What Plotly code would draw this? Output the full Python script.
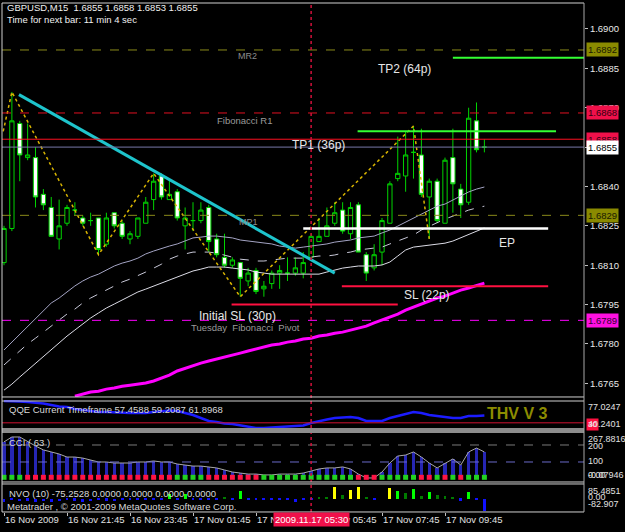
import plotly.graph_objects as go

# ---------------- data ----------------
bar_no = list(range(1, 63))

opens = [1.6811, 1.6824, 1.6864, 1.6851, 1.6851, 1.6837, 1.6832, 1.6820, 1.6826, 1.6831,
         1.6828, 1.6827, 1.6828, 1.6818, 1.6830, 1.6826, 1.6820, 1.6821, 1.6826, 1.6835,
         1.6844, 1.6835, 1.6838, 1.6825, 1.6827, 1.6827, 1.6832, 1.6820, 1.6813, 1.6810,
         1.6811, 1.6804, 1.6808, 1.6801, 1.6803, 1.6807, 1.6807, 1.6807, 1.6807, 1.6813,
         1.6819, 1.6821, 1.6826, 1.6831, 1.6822, 1.6833, 1.6814, 1.6809, 1.6815, 1.6826,
         1.6843, 1.6844, 1.6853, 1.6852, 1.6836, 1.6842, 1.6826, 1.6851, 1.6839, 1.6834,
         1.6865, 1.6855]
highs = [1.6825, 1.6876, 1.6865, 1.6864, 1.6855, 1.6839, 1.6836, 1.6835, 1.6833, 1.6834,
         1.6829, 1.6830, 1.6828, 1.6830, 1.6830, 1.6827, 1.6823, 1.6828, 1.6836, 1.6845,
         1.6845, 1.6843, 1.6839, 1.6832, 1.6834, 1.6834, 1.6833, 1.6822, 1.6822, 1.6813,
         1.6811, 1.6809, 1.6809, 1.6804, 1.6808, 1.6810, 1.6813, 1.6813, 1.6815, 1.6822,
         1.6828, 1.6832, 1.6834, 1.6834, 1.6834, 1.6834, 1.6815, 1.6818, 1.6828, 1.6842,
         1.6859, 1.6861, 1.6863, 1.6862, 1.6843, 1.6843, 1.6851, 1.6862, 1.6841, 1.6870,
         1.6872, 1.6858]
lows = [1.6810, 1.6823, 1.6842, 1.6850, 1.6832, 1.6831, 1.6821, 1.6816, 1.6825, 1.6829,
        1.6825, 1.6825, 1.6814, 1.6817, 1.6824, 1.6820, 1.6818, 1.6820, 1.6826, 1.6831,
        1.6835, 1.6835, 1.6827, 1.6816, 1.6823, 1.6826, 1.6815, 1.6813, 1.6809, 1.6809,
        1.6798, 1.6802, 1.6799, 1.6798, 1.6801, 1.6801, 1.6804, 1.6806, 1.6805, 1.6812,
        1.6819, 1.6821, 1.6825, 1.6822, 1.6820, 1.6815, 1.6804, 1.6808, 1.6810, 1.6826,
        1.6842, 1.6838, 1.6843, 1.6836, 1.6820, 1.6826, 1.6826, 1.6830, 1.6828, 1.6833,
        1.6853, 1.6853]
closes = [1.6824, 1.6865, 1.6852, 1.6852, 1.6836, 1.6833, 1.6821, 1.6825, 1.6832, 1.6831,
          1.6826, 1.6827, 1.6816, 1.6828, 1.6825, 1.6821, 1.6822, 1.6828, 1.6834, 1.6842,
          1.6836, 1.6837, 1.6828, 1.6828, 1.6827, 1.6831, 1.6819, 1.6814, 1.6810, 1.6812,
          1.6805, 1.6807, 1.6800, 1.6802, 1.6807, 1.6808, 1.6807, 1.6809, 1.6811, 1.6821,
          1.6821, 1.6825, 1.6830, 1.6823, 1.6832, 1.6815, 1.6807, 1.6814, 1.6827, 1.6841,
          1.6845, 1.6852, 1.6853, 1.6837, 1.6842, 1.6827, 1.6850, 1.6841, 1.6833, 1.6866,
          1.6854, 1.6855]

ma_upper = [1.67777, 1.67807, 1.67838, 1.67868, 1.67899, 1.67925, 1.67956, 1.67975, 1.67998, 1.68021,
            1.68040, 1.68055, 1.68066, 1.68082, 1.68097, 1.68108, 1.68116, 1.68127, 1.68143, 1.68154,
            1.68165, 1.68173, 1.68181, 1.68192, 1.68204, 1.68207, 1.68211, 1.68211, 1.68207, 1.68204,
            1.68196, 1.68192, 1.68188, 1.68184, 1.68181, 1.68173, 1.68169, 1.68165, 1.68169, 1.68173,
            1.68177, 1.68181, 1.68188, 1.68192, 1.68196, 1.68204, 1.68207, 1.68211, 1.68223, 1.68234,
            1.68249, 1.68264, 1.68280, 1.68295, 1.68310, 1.68325, 1.68333, 1.68348, 1.68364, 1.68379,
            1.68390, 1.68398]
ma_mid = [1.67720, 1.67746, 1.67773, 1.67800, 1.67822, 1.67845, 1.67868, 1.67891, 1.67914, 1.67933,
          1.67956, 1.67975, 1.67990, 1.68005, 1.68021, 1.68036, 1.68047, 1.68059, 1.68074, 1.68089,
          1.68104, 1.68123, 1.68135, 1.68143, 1.68150, 1.68150, 1.68150, 1.68146, 1.68139, 1.68131,
          1.68123, 1.68120, 1.68116, 1.68116, 1.68120, 1.68123, 1.68127, 1.68127, 1.68127, 1.68131,
          1.68135, 1.68135, 1.68139, 1.68146, 1.68150, 1.68158, 1.68162, 1.68165, 1.68169, 1.68181,
          1.68192, 1.68204, 1.68215, 1.68234, 1.68249, 1.68264, 1.68276, 1.68287, 1.68299, 1.68310,
          1.68318, 1.68325]
ma_lower = [1.67624, 1.67647, 1.67674, 1.67700, 1.67727, 1.67754, 1.67781, 1.67807, 1.67830, 1.67853,
            1.67876, 1.67899, 1.67918, 1.67937, 1.67952, 1.67967, 1.67983, 1.67998, 1.68009, 1.68021,
            1.68032, 1.68043, 1.68055, 1.68066, 1.68078, 1.68085, 1.68093, 1.68093, 1.68093, 1.68089,
            1.68085, 1.68082, 1.68074, 1.68070, 1.68066, 1.68066, 1.68066, 1.68066, 1.68066, 1.68066,
            1.68066, 1.68074, 1.68082, 1.68089, 1.68093, 1.68097, 1.68097, 1.68097, 1.68101, 1.68112,
            1.68135, 1.68158, 1.68169, 1.68173, 1.68177, 1.68181, 1.68184, 1.68192, 1.68204, 1.68215,
            1.68230, 1.68242]
ma_slow_bars = list(range(10, 63))
ma_slow = [1.67601, 1.67609, 1.67617, 1.67620, 1.67628, 1.67632, 1.67639, 1.67643, 1.67647, 1.67651,
           1.67659, 1.67670, 1.67681, 1.67697, 1.67708, 1.67716, 1.67727, 1.67735, 1.67742, 1.67750,
           1.67758, 1.67765, 1.67773, 1.67780, 1.67788, 1.67796, 1.67800, 1.67807, 1.67811, 1.67819,
           1.67822, 1.67830, 1.67834, 1.67841, 1.67845, 1.67853, 1.67861, 1.67868, 1.67880, 1.67891,
           1.67902, 1.67914, 1.67929, 1.67941, 1.67952, 1.67963, 1.67975, 1.67982, 1.67994, 1.68005,
           1.68013, 1.68024, 1.68032]

zigzag_bars = [0.9, 2, 13, 20, 31, 53, 55]
zigzag_prices = [1.6861, 1.6876, 1.6814, 1.6845, 1.6798, 1.6863, 1.6820]

trend_bars = [2.9, 43.0]
trend_prices = [1.6875, 1.6807]

# horizontal levels (price)
level_mr2 = 1.6892
level_fib_r1 = 1.6868
level_tp_red = 1.6858
level_bid = 1.6855
level_mp1 = 1.6829
level_pivot = 1.6789

# trade lines: (price, start bar, end bar)
tp2_line = (1.6889, 58.0, 74.7)
tp1_line = (1.6861, 45.9, 71.1)
ep_line = (1.6824, 39.0, 70.1)
sl_line = (1.6802, 43.9, 70.1)
init_sl_line = (1.6795, 29.9, 51.0)

marker_bar = 40  # 2009.11.17 05:30

qqe = [76.2, 76.2, 75.6, 74.9, 74.3, 73.0, 71.0, 69.1, 68.4, 65.9,
       64.6, 63.3, 62.0, 62.0, 61.3, 61.3, 60.7, 60.7, 60.7, 62.0,
       63.3, 63.9, 63.3, 60.7, 58.1, 54.2, 50.3, 49.1, 47.1, 46.5,
       44.5, 42.6, 41.3, 41.3, 41.9, 42.6, 42.6, 43.2, 44.5, 47.8,
       50.3, 52.3, 54.2, 54.9, 55.5, 54.2, 50.3, 50.3, 50.3, 54.2,
       56.8, 59.4, 62.0, 60.7, 58.1, 56.8, 55.5, 54.2, 54.2, 56.8,
       56.8, 57.5]
qqe_level = 48

cci = [218, 247, 247, 218, 194, 171, 159, 147, 129, 129,
       123, 112, 100, 100, 94, 94, 94, 100, 100, 106,
       100, 100, 88, 82, 76, 76, 71, 65, 53, 41,
       35, 29, 29, 24, 24, 29, 29, 29, 35, 47,
       59, 65, 65, 71, 59, 29, 6, 6, 41, 94,
       135, 141, 159, 129, 94, 65, 94, 118, 82, 159,
       182, 159]
cci_state = ("GGGRRRRRRRRRRRRRRRRRRRGGGGRRRRRRRGGGGGGGGGGGGRRRGGGGGRRGRGRGGG")
cci_marker_level = 10

nvo = [-20, -10, -15, -12, -18, -15, -20, -15, -10, -12,
       -18, -15, -10, -12, -15, -10, -8, -10, -8, -6,
       -6, 30, -5, 30, -5, -5, -6, -6, 8, -5,
       45, -6, -6, -6, -6, -5, -5, -20, -5, -4,
       8, 8, 73, 23, 54, 73, 8, -6, 0, 67,
       48, 36, 60, 17, 42, 23, 17, 8, -12, 42,
       -8, -75.25]
nvo_state = ["B"] * 21 + ["G", "B", "G", "B", "B", "B", "B", "D", "B", "G",
                          "B", "B", "B", "B", "B", "B", "B", "B", "B",
                          "D", "D", "Y", "D", "Y", "Y", "D", "B", "B", "Y",
                          "G", "D", "G", "D", "G", "D", "D", "D", "B", "G",
                          "B", "B"]

price_ticks = [1.6765, 1.6780, 1.6795, 1.6810, 1.6825, 1.6840, 1.6855, 1.6870, 1.6885, 1.6900]
time_tick_bars = [1, 9, 17, 25, 33, 41, 49, 57]
time_tick_text = ["16 Nov 2009", "16 Nov 21:45", "16 Nov 23:45", "17 Nov 01:45",
                  "17 Nov 03:45", "17 Nov 05:45", "17 Nov 07:45", "17 Nov 09:45"]

# ---------------- style ----------------
FONT = "Liberation Sans"
GREEN = "#00d400"
BG = "#000000"
X_RANGE = [0.746, 74.65]

fig = go.Figure()

# main panel
fig.add_trace(go.Scatter(x=bar_no, y=ma_upper, mode="lines",
                         line=dict(color="#a4a4c4", width=1), hoverinfo="skip"))
fig.add_trace(go.Scatter(x=bar_no, y=ma_mid, mode="lines",
                         line=dict(color="#c8c8d8", width=1, dash="dash"), hoverinfo="skip"))
fig.add_trace(go.Scatter(x=bar_no, y=ma_lower, mode="lines",
                         line=dict(color="#dcdce6", width=1), hoverinfo="skip"))
fig.add_trace(go.Scatter(x=ma_slow_bars, y=ma_slow, mode="lines",
                         line=dict(color="#ff00ff", width=3), hoverinfo="skip"))
fig.add_trace(go.Candlestick(
    x=bar_no, open=opens, high=highs, low=lows, close=closes,
    increasing=dict(line=dict(color=GREEN, width=1), fillcolor="#000000"),
    decreasing=dict(line=dict(color=GREEN, width=1), fillcolor="#ffffff"),
    whiskerwidth=0, hoverinfo="skip"))
fig.add_trace(go.Scatter(x=zigzag_bars, y=zigzag_prices, mode="lines",
                         line=dict(color="#d8b400", width=1.5, dash="dot"), hoverinfo="skip"))
fig.add_trace(go.Scatter(x=trend_bars, y=trend_prices, mode="lines",
                         line=dict(color="#1ec4cc", width=3), hoverinfo="skip"))

# QQE panel
fig.add_trace(go.Scatter(x=bar_no, y=qqe, mode="lines", xaxis="x2", yaxis="y2",
                         line=dict(color="#1c1cff", width=2.5), hoverinfo="skip"))

# CCI panel
fig.add_trace(go.Bar(x=bar_no, y=cci, xaxis="x3", yaxis="y3", width=0.42,
                     marker=dict(color="#2626b4", line=dict(width=0)), hoverinfo="skip"))
fig.add_trace(go.Scatter(x=bar_no, y=cci, mode="lines", xaxis="x3", yaxis="y3",
                         line=dict(color="#a8a8a8", width=1), hoverinfo="skip"))
state_colors = {"G": "#22d222", "R": "#ff1444"}
fig.add_trace(go.Scatter(x=bar_no, y=[cci_marker_level] * len(bar_no), mode="markers",
                         xaxis="x3", yaxis="y3",
                         marker=dict(symbol="square", size=5,
                                     color=[state_colors[s] for s in cci_state], line=dict(width=0)),
                         hoverinfo="skip"))

# NVO panel
nvo_colors = {"B": "#1010ff", "G": "#00ff00", "D": "#007a00", "Y": "#ffff00"}
fig.add_trace(go.Bar(x=bar_no, y=nvo, xaxis="x4", yaxis="y4", width=0.36,
                     marker=dict(color=[nvo_colors[s] for s in nvo_state], line=dict(width=0)),
                     hoverinfo="skip"))

# ---------------- shapes ----------------
shapes = []


def hline(price, color, width=1, dash="solid", x0=None, x1=None):
    if x0 is None:
        shapes.append(dict(type="line", xref="paper", yref="y", x0=0, x1=1, y0=price, y1=price,
                           line=dict(color=color, width=width, dash=dash)))
    else:
        shapes.append(dict(type="line", xref="x", yref="y", x0=x0, x1=x1, y0=price, y1=price,
                           line=dict(color=color, width=width, dash=dash)))


hline(level_mr2, "#8a8a1a", 1, "dash")
hline(level_fib_r1, "#e01020", 1, "dash")
hline(level_tp_red, "#ff1020", 1)
hline(level_bid, "#7878a8", 1)
hline(level_mp1, "#8a8a1a", 1, "dash")
hline(level_pivot, "#ff00ff", 1, "dash")
hline(tp2_line[0], "#33ff33", 2, x0=tp2_line[1], x1=tp2_line[2])
hline(tp1_line[0], "#33ff33", 2, x0=tp1_line[1], x1=tp1_line[2])
hline(ep_line[0], "#ffffff", 2.5, x0=ep_line[1], x1=ep_line[2])
hline(sl_line[0], "#ff1040", 2, x0=sl_line[1], x1=sl_line[2])
hline(init_sl_line[0], "#ff1040", 2, x0=init_sl_line[1], x1=init_sl_line[2])

# QQE level
shapes.append(dict(type="line", xref="paper", yref="y2", x0=0, x1=1, y0=qqe_level, y1=qqe_level,
                   line=dict(color="#d01030", width=1)))
# CCI levels
shapes.append(dict(type="line", xref="paper", yref="y3", x0=0, x1=1, y0=200, y1=200,
                   line=dict(color="#7a7a7a", width=1, dash="dash")))
shapes.append(dict(type="line", xref="paper", yref="y3", x0=0, x1=1, y0=100, y1=100,
                   line=dict(color="#6a6ac8", width=1, dash="dash")))

# vertical marker line
shapes.append(dict(type="line", xref="x", yref="paper", x0=marker_bar, x1=marker_bar, y0=0.002, y1=1,
                   line=dict(color="#d0103a", width=1.5, dash="dot")))

# panel frames
BORDER = "#d0d0d0"
for y_line in [1.0, 0.2275, 0.2196, 0.0608, 0.0569, 0.002]:
    shapes.append(dict(type="line", xref="paper", yref="paper", x0=0, x1=1, y0=y_line, y1=y_line,
                       line=dict(color=BORDER, width=1)))
shapes.append(dict(type="rect", xref="paper", yref="paper", x0=0, x1=1, y0=0.1569, y1=0.1667,
                   fillcolor="#8c8c8c", line=dict(width=0)))
shapes.append(dict(type="line", xref="paper", yref="paper", x0=0, x1=0, y0=0.002, y1=1,
                   line=dict(color=BORDER, width=1)))
shapes.append(dict(type="line", xref="paper", yref="paper", x0=1, x1=1, y0=0.002, y1=1,
                   line=dict(color="#a8a8a8", width=1)))

# ---------------- annotations ----------------
ann = []


def text(x, y, s, color="#e0e0e0", size=9.5, xref="x", yref="y", xanchor="center",
         yanchor="middle", bg=None, bold=False, xshift=0):
    d = dict(x=x, y=y, xref=xref, yref=yref, text=("<b>%s</b>" % s) if bold else s,
             showarrow=False, xanchor=xanchor, yanchor=yanchor, xshift=xshift,
             font=dict(family=FONT, size=size, color=color))
    if bg:
        d.update(bgcolor=bg, borderpad=1)
    ann.append(d)


text(0.005, 0.992, "GBPUSD,M15  1.6855 1.6858 1.6853 1.6855", "#f0f0f0", 9.5,
     xref="paper", yref="paper", xanchor="left")
text(0.005, 0.9686, "Time for next bar: 11 min 4 sec", "#f0f0f0", 9.5,
     xref="paper", yref="paper", xanchor="left")

text(31.9, 1.68897, "MR2", "#8c8c8c", 9)
text(31.6, 1.68653, "Fibonacci R1", "#9a9a9a", 9.5)
text(32.0, 1.68265, "MP1", "#8c8c8c", 9)
text(31.7, 1.67864, "Tuesday  Fibonacci  Pivot", "#9a9a9a", 9.5)
text(51.9, 1.68848, "TP2 (64p)", "#e6e6e6", 12)
text(40.9, 1.68558, "TP1 (36p)", "#e6e6e6", 12)
text(64.9, 1.68184, "EP", "#e6e6e6", 12)
text(54.7, 1.67986, "SL (22p)", "#e6e6e6", 12)
text(30.7, 1.67906, "Initial SL (30p)", "#e6e6e6", 12)

# price boxes on the right axis
for price, bg, fg in [(level_mr2, "#8a8a00", "#1a1a00"), (level_fib_r1, "#f0104a", "#300010"),
                      (level_tp_red, "#f0104a", "#300010"), (level_bid, "#ffffff", "#000000"),
                      (level_mp1, "#8a8a00", "#1a1a00"), (level_pivot, "#ff10e0", "#300030")]:
    text(1.0, price, "%.4f" % price, fg, 9.5, xref="paper", yref="y", xanchor="left",
         bg=bg, xshift=2)

# sub-panel labels
text(0.0086, 0.2020, "QQE Current Timeframe 57.4588 59.2087 61.8968", "#d8d8d8", 9.5,
     xref="paper", yref="paper", xanchor="left")
text(0.0086, 0.1373, "CCI ( 63 )", "#d8d8d8", 9.5, xref="paper", yref="paper", xanchor="left")
text(0.0086, 0.0373, "NVO (10) -75.2528 0.0000 0.0000 0.0000 0.0000", "#d8d8d8", 9.5,
     xref="paper", yref="paper", xanchor="left")
text(0.005, 0.0118, "Metatrader , © 2001-2009 MetaQuotes Software Corp.", "#d8d8d8", 9.5,
     xref="paper", yref="paper", xanchor="left")
text(0.885, 0.196, "THV V 3", "#8c8c00", 16, xref="paper", yref="paper", bold=True)

# sub-panel scale labels
text(1.0, 0.1745, "30", "#ffffff", 8, xref="paper", yref="paper", xanchor="left",
     bg="#ff1040", xshift=2)
for yv, s in [(0.2078, "77.0247"), (0.1745, "40.2401"), (0.1451, "267.8816"), (0.1314, "200"),
              (0.1020, "100"), (0.0745, "0.00"), (0.0745, "-0.07946"), (0.0431, "85.4851"),
              (0.0314, "0.00"), (0.0176, "-82.907")]:
    text(1.0, yv, s, "#e0e0e0", 9, xref="paper", yref="paper", xanchor="left", xshift=2)

# time labels
for b, s in zip(time_tick_bars, time_tick_text):
    text(b - 0.1, -0.0137, s, "#e0e0e0", 9.5, xref="x", yref="paper", xanchor="left")
text(marker_bar, -0.0137, "2009.11.17 05:30", "#ffffff", 9.5, xref="x", yref="paper",
     bg="#f0104a")

# ---------------- layout ----------------
axis_common = dict(range=X_RANGE, showgrid=False, zeroline=False, showticklabels=False,
                   showline=False, ticks="", automargin=False)

tick_text = ["" if abs(p - level_bid) < 1e-9 else "%.4f" % p for p in price_ticks]

fig.update_layout(
    template="none",
    width=625, height=532,
    margin=dict(l=2, r=41, t=3, b=19),
    paper_bgcolor=BG, plot_bgcolor=BG,
    showlegend=False,
    bargap=0, boxgap=0.22,
    font=dict(family=FONT, color="#e0e0e0"),
    xaxis=dict(**axis_common, anchor="y", rangeslider=dict(visible=False)),
    xaxis2=dict(**axis_common, anchor="y2", matches="x"),
    xaxis3=dict(**axis_common, anchor="y3", matches="x"),
    xaxis4=dict(range=X_RANGE, showgrid=False, zeroline=False, showticklabels=False,
                anchor="y4", matches="x", ticks="outside", ticklen=3, tickcolor="#c0c0c0",
                tickvals=time_tick_bars, showline=False, automargin=False),
    yaxis=dict(domain=[0.2275, 1.0], range=[1.67598, 1.69099], side="right",
               tickvals=price_ticks, ticktext=tick_text,
               tickfont=dict(family=FONT, size=9.5, color="#e8e8e8"),
               ticks="outside", ticklen=3, tickcolor="#c0c0c0",
               showgrid=False, zeroline=False, showline=False, automargin=False),
    yaxis2=dict(domain=[0.1647, 0.2216], range=[40, 77.5], anchor="x2", showgrid=False,
                zeroline=False, showticklabels=False, ticks="", automargin=False),
    yaxis3=dict(domain=[0.0608, 0.1549], range=[-17.6, 264.6], anchor="x3", showgrid=False,
                zeroline=False, showticklabels=False, ticks="", automargin=False),
    yaxis4=dict(domain=[0.002, 0.0549], range=[-82.907, 85.4851], anchor="x4", showgrid=False,
                zeroline=False, showticklabels=False, ticks="", automargin=False),
    shapes=shapes,
    annotations=ann,
)

fig.write_html("out.html")
